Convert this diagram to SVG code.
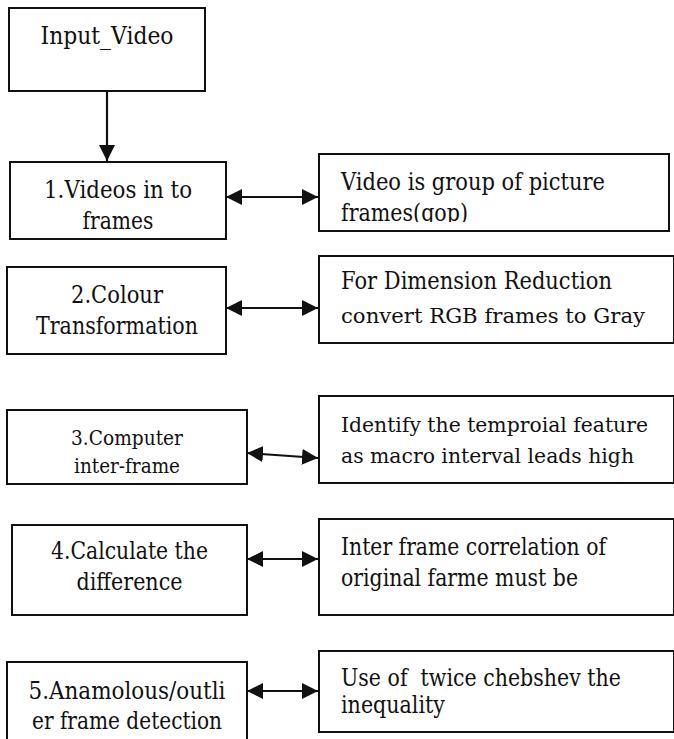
<svg xmlns="http://www.w3.org/2000/svg" width="674" height="739" viewBox="0 0 674 739">
<style>
.box{fill:#fff;stroke:#111;stroke-width:2}
text{font-family:'DejaVu Serif','Liberation Serif',serif;font-size:23.5px;fill:#111}
.c{text-anchor:middle}
.s{font-size:21px}
.w{font-size:21px}
.ln{stroke:#111;stroke-width:2.2;fill:none}
</style>
<defs>
<marker id="ah" viewBox="0 0 16 16" refX="16" refY="8" markerWidth="16" markerHeight="16" markerUnits="userSpaceOnUse" orient="auto-start-reverse">
<path d="M0,0 L16,8 L0,16 Z" fill="#111"/>
</marker>
<clipPath id="clipR1"><rect x="320" y="155" width="348" height="67"/></clipPath>
</defs>
<rect width="674" height="739" fill="#fff"/>
<g id="connectors">
<line class="ln" x1="107" y1="91" x2="107" y2="161" marker-end="url(#ah)"/>
<line class="ln" x1="226" y1="197" x2="318" y2="197" marker-start="url(#ah)" marker-end="url(#ah)"/>
<line class="ln" x1="226" y1="308" x2="318" y2="308" marker-start="url(#ah)" marker-end="url(#ah)"/>
<line class="ln" x1="247" y1="453" x2="318" y2="458" marker-start="url(#ah)" marker-end="url(#ah)"/>
<line class="ln" x1="247" y1="559" x2="318" y2="559" marker-start="url(#ah)" marker-end="url(#ah)"/>
<line class="ln" x1="247" y1="691" x2="318" y2="691" marker-start="url(#ah)" marker-end="url(#ah)"/>
</g>
<g id="input">
<rect class="box" x="9" y="8" width="196" height="83"/>
<text class="c" x="107" y="44" textLength="133" lengthAdjust="spacingAndGlyphs">Input_Video</text>
</g>
<g id="step1">
<rect class="box" x="10" y="162" width="216" height="77"/>
<text class="c" x="118" y="198" textLength="148" lengthAdjust="spacingAndGlyphs">1.Videos in to</text>
<text class="c" x="118" y="229" textLength="71" lengthAdjust="spacingAndGlyphs">frames</text>
</g>
<g id="note1">
<rect class="box" x="319" y="154" width="350" height="77"/>
<g clip-path="url(#clipR1)">
<text x="341" y="190" textLength="264" lengthAdjust="spacingAndGlyphs">Video is group of picture</text>
<text x="341" y="221" textLength="127" lengthAdjust="spacingAndGlyphs">frames(gop)</text>
</g>
</g>
<g id="step2">
<rect class="box" x="7" y="267" width="219" height="87"/>
<text class="c" x="117" y="303" textLength="92" lengthAdjust="spacingAndGlyphs">2.Colour</text>
<text class="c" x="117" y="334" textLength="162" lengthAdjust="spacingAndGlyphs">Transformation</text>
</g>
<g id="note2">
<rect class="box" x="319" y="256" width="355" height="87"/>
<text x="341" y="289" textLength="271" lengthAdjust="spacingAndGlyphs">For Dimension Reduction</text>
<text class="w" x="341" y="323" textLength="304" lengthAdjust="spacingAndGlyphs">convert RGB frames to Gray</text>
</g>
<g id="step3">
<rect class="box" x="7" y="410" width="240" height="74"/>
<text class="c s" x="127" y="445" textLength="112" lengthAdjust="spacingAndGlyphs">3.Computer</text>
<text class="c s" x="127" y="473" textLength="106" lengthAdjust="spacingAndGlyphs">inter-frame</text>
</g>
<g id="note3">
<rect class="box" x="319" y="396" width="355" height="87"/>
<text class="w" x="341" y="432" textLength="307" lengthAdjust="spacingAndGlyphs">Identify the temproial feature</text>
<text class="w" x="341" y="463" textLength="293" lengthAdjust="spacingAndGlyphs">as macro interval leads high</text>
</g>
<g id="step4">
<rect class="box" x="12" y="525" width="235" height="90"/>
<text class="c" x="129.5" y="559" textLength="157" lengthAdjust="spacingAndGlyphs">4.Calculate the</text>
<text class="c" x="129.5" y="590" textLength="106" lengthAdjust="spacingAndGlyphs">difference</text>
</g>
<g id="note4">
<rect class="box" x="319" y="519" width="355" height="96"/>
<text x="341" y="555" textLength="265" lengthAdjust="spacingAndGlyphs">Inter frame correlation of</text>
<text x="341" y="586" textLength="237" lengthAdjust="spacingAndGlyphs">original farme must be</text>
</g>
<g id="step5">
<rect class="box" x="7" y="662" width="240" height="90"/>
<text class="c" x="127" y="699" textLength="197" lengthAdjust="spacingAndGlyphs">5.Anamolous/outli</text>
<text class="c" x="127" y="729" textLength="190" lengthAdjust="spacingAndGlyphs">er frame detection</text>
</g>
<g id="note5">
<rect class="box" x="319" y="651" width="355" height="81"/>
<text x="341" y="686" xml:space="preserve" textLength="280" lengthAdjust="spacingAndGlyphs">Use of  twice chebshev the</text>
<text x="341" y="713" textLength="104" lengthAdjust="spacingAndGlyphs">inequality</text>
</g>
</svg>
